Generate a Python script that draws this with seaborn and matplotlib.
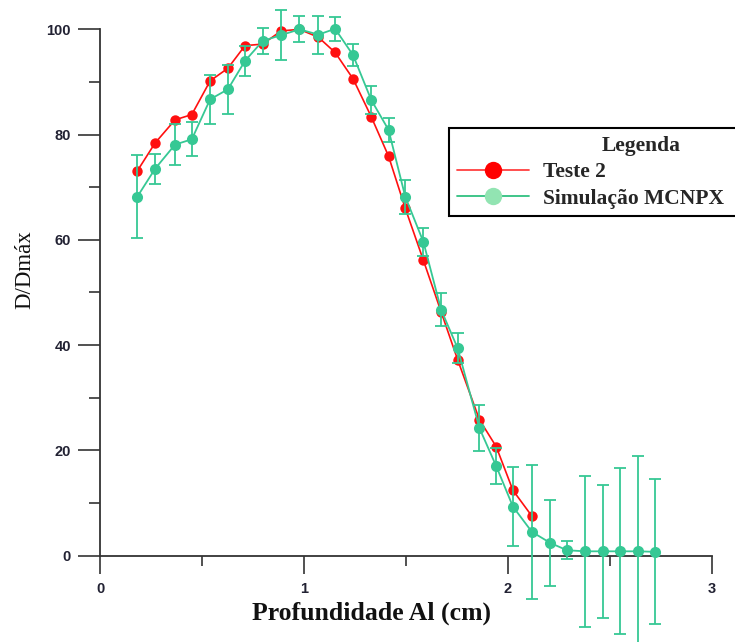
import matplotlib
matplotlib.use("Agg")
import matplotlib.pyplot as plt
from matplotlib.lines import Line2D
from matplotlib.ticker import MultipleLocator
import seaborn as sns

# Teste 2 (measured)
x_teste = [0.183, 0.270, 0.368, 0.450, 0.540, 0.627, 0.711, 0.798, 0.888, 0.978,
           1.071, 1.153, 1.241, 1.330, 1.415, 1.497, 1.586, 1.673, 1.754, 1.861,
           1.943, 2.025, 2.118]
y_teste = [73.1, 78.4, 82.8, 83.8, 90.2, 92.6, 96.9, 97.2, 99.7, 100.0,
           98.5, 95.6, 90.6, 83.4, 75.9, 66.0, 56.1, 46.3, 37.2, 25.8,
           20.7, 12.4, 7.5]

# Simulação MCNPX
x_sim = [0.183, 0.270, 0.368, 0.450, 0.540, 0.627, 0.711, 0.798, 0.888, 0.978,
         1.071, 1.153, 1.241, 1.330, 1.415, 1.497, 1.586, 1.673, 1.754, 1.861,
         1.943, 2.025, 2.118, 2.208, 2.290, 2.380, 2.468, 2.552, 2.640, 2.723]
y_sim = [68.2, 73.5, 78.1, 79.1, 86.7, 88.6, 94.0, 97.8, 98.9, 100.0,
         99.0, 100.1, 95.1, 86.6, 80.9, 68.2, 59.6, 46.7, 39.4, 24.2,
         17.0, 9.3, 4.5, 2.4, 1.0, 0.8, 0.8, 0.8, 0.8, 0.7]
err_sim = [7.9, 2.9, 3.9, 3.2, 4.7, 4.7, 2.8, 2.5, 4.7, 2.5,
           3.6, 2.3, 2.1, 2.7, 2.3, 3.2, 2.7, 3.1, 2.8, 4.4,
           3.5, 7.5, 12.7, 8.1, 1.7, 14.3, 12.6, 15.8, 18.1, 13.8]

red = "#ff1010"
green = "#36c894"

sns.set_style("ticks")
plt.rcParams["font.family"] = ["Liberation Sans", "DejaVu Sans"]

fig = plt.figure(figsize=(7.35, 6.42), dpi=100)
ax = fig.add_axes([0.1361, 0.1347, 0.8322, 0.8196])

sns.lineplot(x=x_teste, y=y_teste, color=red, marker="o", markersize=7.5,
             markeredgewidth=0, linewidth=1.2, ax=ax, legend=False, clip_on=False)
ax.errorbar(x_sim, y_sim, yerr=err_sim, fmt="none", ecolor=green, elinewidth=1.3,
            capsize=4.3, capthick=1.3, clip_on=False, zorder=3)
sns.lineplot(x=x_sim, y=y_sim, color=green, marker="o", markersize=8,
             markeredgewidth=0, linewidth=1.3, ax=ax, legend=False, clip_on=False, zorder=4)

ax.set_xlim(0, 3)
ax.set_ylim(0, 100)
ax.xaxis.set_major_locator(MultipleLocator(1))
ax.xaxis.set_minor_locator(MultipleLocator(0.5))
ax.yaxis.set_major_locator(MultipleLocator(20))
ax.yaxis.set_minor_locator(MultipleLocator(10))

sns.despine(ax=ax)
for side in ["left", "bottom"]:
    ax.spines[side].set_color("#333333")
    ax.spines[side].set_linewidth(1.3)
ax.tick_params(axis="y", which="major", direction="out", length=16, width=1.2,
               color="#333333", pad=5, labelsize=10.5)
ax.tick_params(axis="y", which="minor", direction="out", length=8, width=1.2, color="#333333")
ax.tick_params(axis="x", which="major", direction="out", length=13, width=1.2,
               color="#333333", pad=6, labelsize=10.5)
ax.tick_params(axis="x", which="minor", direction="out", length=7, width=1.2, color="#333333")
for lab in ax.get_xticklabels() + ax.get_yticklabels():
    lab.set_fontweight("bold")
    lab.set_color("#222233")

ax.set_xlabel("Profundidade Al (cm)", family="Liberation Serif", fontweight="bold",
              fontsize=18.5, color="#111111")
ax.xaxis.set_label_coords(0.443, -0.088)
ax.set_ylabel("D/Dmáx", family="Liberation Serif", fontsize=16.5, color="#111111")
ax.yaxis.set_label_coords(-0.106, 0.543)

handles = [
    Line2D([], [], color="#ff4040", linewidth=1.3, marker="o", markersize=12.5,
           markerfacecolor="#ff0000", markeredgewidth=0),
    Line2D([], [], color="#30c080", linewidth=1.3, marker="o", markersize=12.5,
           markerfacecolor="#92e4b2", markeredgewidth=0),
]
leg = ax.legend(handles, ["Teste 2", "Simulação MCNPX"], title="Legenda",
                loc="upper left", bbox_to_anchor=(0.5705, 0.6124, 0.628, 0.2),
                mode="expand", borderaxespad=0,
                prop={"family": "Liberation Serif", "weight": "bold", "size": 15.5},
                title_fontproperties={"family": "Liberation Serif", "weight": "bold", "size": 15.5},
                frameon=True, fancybox=False, edgecolor="black", framealpha=1,
                handlelength=3.35, handletextpad=0.65, labelspacing=0.3, borderpad=0.35)
leg.get_frame().set_linewidth(1.5)

fig.savefig("out.png", dpi=100)
